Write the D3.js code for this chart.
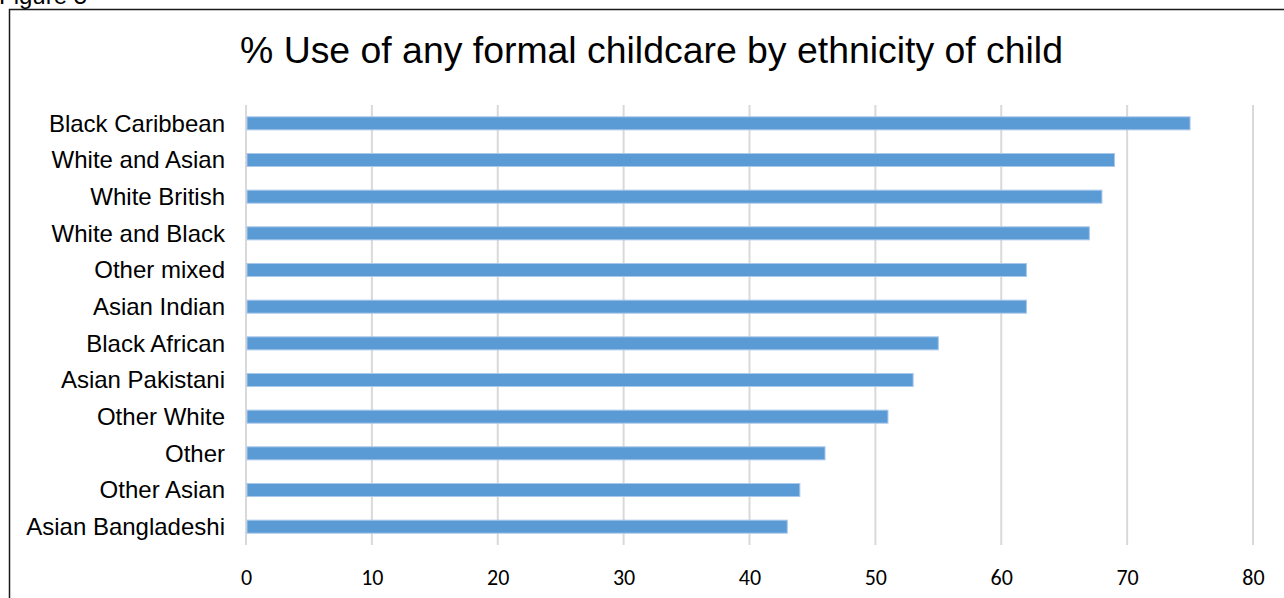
<!DOCTYPE html>
<html>
<head>
<meta charset="utf-8">
<script src="https://cdn.jsdelivr.net/npm/d3@7"></script>
<style>
  html, body { margin: 0; padding: 0; background: #fff; }
  svg { display: block; }
</style>
</head>
<body>
<svg id="chart" width="1284" height="598"></svg>
<script>
// Ethnic groups, top to bottom
const categories = [
  "Black Caribbean", "White and Asian", "White British", "White and Black",
  "Other mixed", "Asian Indian", "Black African", "Asian Pakistani",
  "Other White", "Other", "Other Asian", "Asian Bangladeshi"
];
// Percentage using any formal childcare
const values = [75, 69, 68, 67, 62, 62, 55, 53, 51, 46, 44, 43];
const xTicks = [0, 10, 20, 30, 40, 50, 60, 70, 80];
const title = "% Use of any formal childcare by ethnicity of child";

const svg = d3.select("#chart");
const labelFont = "'Liberation Sans', Arial, sans-serif";

// Caption above the frame (mostly off the top edge)
svg.append("text")
  .attr("x", -1).attr("y", 4)
  .attr("font-family", labelFont).attr("font-size", 24)
  .attr("fill", "#000")
  .text("Figure 5");

// Chart frame
svg.append("rect")
  .attr("x", 9.5).attr("y", 9.5)
  .attr("width", 1290).attr("height", 600)
  .attr("fill", "#fff")
  .attr("stroke", "#1a1a1a").attr("stroke-width", 1.5);

const x = d3.scaleLinear().domain([0, 80]).range([246, 1253]);
const y = d3.scaleBand().domain(categories).range([105, 545]).paddingInner(0.645).paddingOuter(0.3225);

// Title
svg.append("text")
  .attr("x", 651.5).attr("y", 63)
  .attr("text-anchor", "middle")
  .attr("font-family", labelFont).attr("font-size", 37.4)
  .attr("fill", "#000")
  .text(title);

// Vertical gridlines
svg.append("g")
  .selectAll("line")
  .data(xTicks)
  .join("line")
  .attr("x1", d => x(d)).attr("x2", d => x(d))
  .attr("y1", 105).attr("y2", 545)
  .attr("stroke", "#d9d9d9").attr("stroke-width", 2);

// Bars
svg.append("g")
  .selectAll("rect")
  .data(categories.map((c, i) => ({ c, v: values[i] })))
  .join("rect")
  .attr("x", x(0) + 1)
  .attr("y", d => y(d.c))
  .attr("width", d => x(d.v) - x(0) - 1)
  .attr("height", y.bandwidth())
  .attr("fill", "#5b9bd5")
  .attr("stroke", "#a9c8ea").attr("stroke-width", 1);

// Category labels
svg.append("g")
  .selectAll("text")
  .data(categories)
  .join("text")
  .attr("x", 225)
  .attr("y", d => y(d) + y.bandwidth() / 2)
  .attr("dy", "0.35em")
  .attr("text-anchor", "end")
  .attr("font-family", labelFont).attr("font-size", 24)
  .attr("fill", "#000")
  .text(d => d);

// Value axis tick labels
const xAxis = d3.axisBottom(x).tickValues(xTicks).tickSize(0).tickPadding(0);
const gx = svg.append("g").attr("transform", "translate(0,569)").call(xAxis);
gx.select(".domain").remove();
gx.selectAll("text")
  .attr("font-family", "Carlito, 'Open Sans', 'Liberation Sans', sans-serif")
  .attr("font-size", 22)
  .attr("fill", "#000");
</script>
</body>
</html>
